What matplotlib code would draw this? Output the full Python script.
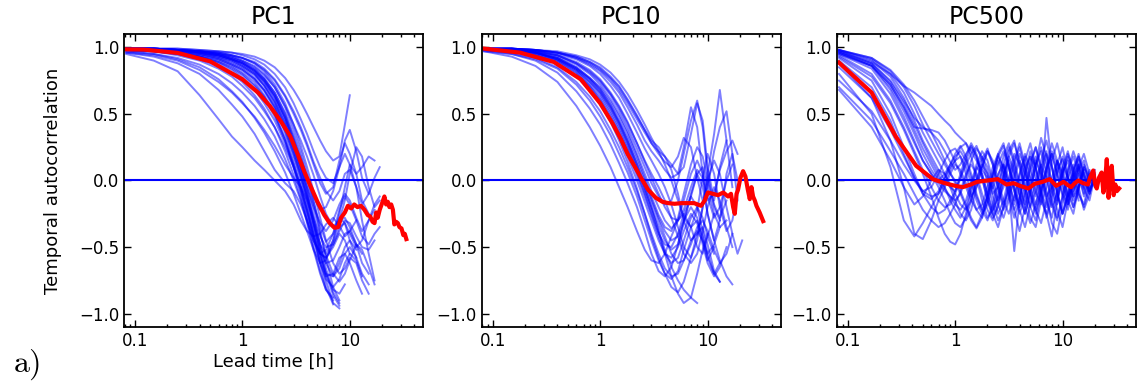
import matplotlib
matplotlib.use("Agg")
from matplotlib import pyplot as plt
from matplotlib.ticker import LogLocator, NullFormatter

plt.rcParams['mathtext.fontset'] = 'cm'

t_pc1 = [0.083, 0.15, 0.25, 0.4, 0.6, 0.8, 1.0, 1.3, 1.6, 2.0, 2.5, 3.0, 3.5,
         4.0, 4.6, 5.3, 6.0, 7.0, 8.0, 9.0, 10, 11.5, 13, 15, 17, 19]

pc1_lines = [
    [0.95, 0.90, 0.82, 0.64, 0.46, 0.33, 0.25, 0.15, 0.08, 0.00, -0.08, -0.18, -0.30, -0.38, -0.42, -0.40, -0.33, -0.28, -0.34, -0.42, -0.38, -0.30],
    [0.96, 0.93, 0.88, 0.80, 0.68, 0.57, 0.48, 0.35, 0.22, 0.08, -0.02, -0.08, -0.18, -0.30, -0.45, -0.55, -0.58, -0.50, -0.40, -0.45, -0.55],
    [0.97, 0.95, 0.91, 0.85, 0.76, 0.67, 0.59, 0.47, 0.36, 0.22, 0.06, -0.10, -0.25, -0.38, -0.52, -0.62, -0.60, -0.45, -0.30, -0.28, -0.35, -0.48, -0.55],
    [0.96, 0.94, 0.90, 0.83, 0.74, 0.66, 0.58, 0.48, 0.38, 0.26, 0.12, 0.02, -0.05, -0.15, -0.30, -0.48, -0.62, -0.72, -0.66, -0.55, -0.50, -0.58, -0.70, -0.78],
    [0.99, 0.98, 0.97, 0.95, 0.92, 0.88, 0.84, 0.77, 0.68, 0.55, 0.36, 0.16, -0.02, -0.20, -0.40, -0.62, -0.80, -0.93],
    [0.99, 0.99, 0.98, 0.96, 0.94, 0.91, 0.88, 0.82, 0.74, 0.62, 0.45, 0.26, 0.08, -0.10, -0.32, -0.55, -0.75, -0.92, -0.96],
    [0.98, 0.97, 0.95, 0.93, 0.89, 0.85, 0.80, 0.72, 0.63, 0.50, 0.32, 0.12, -0.05, -0.22, -0.42, -0.62, -0.72, -0.70, -0.58, -0.55, -0.62, -0.75, -0.85],
    [0.99, 0.99, 0.98, 0.97, 0.95, 0.93, 0.90, 0.85, 0.79, 0.70, 0.55, 0.38, 0.22, 0.05, -0.15, -0.38, -0.58, -0.80, -0.90],
    [0.99, 0.98, 0.96, 0.94, 0.91, 0.87, 0.83, 0.76, 0.67, 0.54, 0.37, 0.20, 0.03, -0.12, -0.28, -0.42, -0.50, -0.48, -0.38, -0.30, -0.32, -0.42, -0.50, -0.52, -0.45],
    [0.99, 0.99, 0.98, 0.96, 0.93, 0.90, 0.86, 0.80, 0.72, 0.60, 0.43, 0.25, 0.10, -0.05, -0.20, -0.32, -0.38, -0.30, -0.18, -0.10, -0.15, -0.28, -0.38, -0.30, -0.18, -0.12],
    [0.99, 0.99, 0.98, 0.97, 0.96, 0.94, 0.92, 0.88, 0.82, 0.72, 0.58, 0.42, 0.26, 0.10, -0.08, -0.28, -0.45, -0.62, -0.70, -0.66, -0.58, -0.62, -0.75, -0.85],
    [0.98, 0.97, 0.96, 0.93, 0.90, 0.86, 0.81, 0.74, 0.64, 0.50, 0.30, 0.10, -0.10, -0.30, -0.50, -0.68, -0.82, -0.90],
    [0.99, 0.98, 0.97, 0.95, 0.92, 0.89, 0.85, 0.79, 0.71, 0.59, 0.42, 0.24, 0.06, -0.12, -0.32, -0.48, -0.55, -0.45, -0.25, -0.05, 0.12, 0.05, -0.15, -0.25],
    [0.99, 0.99, 0.98, 0.96, 0.94, 0.91, 0.87, 0.81, 0.74, 0.63, 0.47, 0.30, 0.14, -0.02, -0.20, -0.40, -0.56, -0.70, -0.76, -0.70, -0.60, -0.48, -0.52, -0.65, -0.78],
    [0.99, 0.98, 0.97, 0.95, 0.93, 0.90, 0.86, 0.80, 0.71, 0.58, 0.40, 0.20, 0.02, -0.16, -0.36, -0.55, -0.70, -0.82, -0.85, -0.78],
    [0.99, 0.99, 0.98, 0.97, 0.95, 0.92, 0.89, 0.84, 0.77, 0.66, 0.50, 0.32, 0.16, 0.02, -0.12, -0.22, -0.20, -0.08, 0.10, 0.20, 0.12, -0.05, -0.18, -0.10, 0.02, 0.10],
    [0.99, 0.99, 0.98, 0.97, 0.95, 0.92, 0.89, 0.83, 0.76, 0.64, 0.48, 0.30, 0.12, -0.06, -0.26, -0.48, -0.66, -0.84, -0.92],
    [0.98, 0.97, 0.96, 0.94, 0.91, 0.87, 0.83, 0.76, 0.68, 0.56, 0.40, 0.22, 0.04, -0.14, -0.34, -0.52, -0.62, -0.60, -0.50, -0.40, -0.38, -0.48, -0.62, -0.70],
    [0.99, 0.98, 0.97, 0.96, 0.94, 0.91, 0.88, 0.83, 0.76, 0.66, 0.51, 0.34, 0.18, 0.02, -0.16, -0.34, -0.46, -0.40, -0.22, -0.12, -0.18, -0.30, -0.42, -0.48, -0.40, -0.35],
    [0.99, 0.99, 0.98, 0.96, 0.94, 0.91, 0.88, 0.82, 0.75, 0.64, 0.47, 0.28, 0.10, -0.08, -0.30, -0.52, -0.70, -0.86, -0.94],
    [0.98, 0.97, 0.95, 0.91, 0.86, 0.80, 0.74, 0.64, 0.54, 0.40, 0.22, 0.04, -0.14, -0.32, -0.52, -0.70, -0.82, -0.88],
    [0.99, 0.98, 0.96, 0.93, 0.88, 0.83, 0.77, 0.68, 0.58, 0.45, 0.28, 0.10, -0.08, -0.26, -0.45, -0.62, -0.74, -0.80, -0.74, -0.62, -0.55, -0.60, -0.72],
    [0.98, 0.97, 0.94, 0.90, 0.84, 0.78, 0.71, 0.62, 0.52, 0.40, 0.25, 0.10, -0.05, -0.22, -0.40, -0.58, -0.70, -0.72, -0.62, -0.50, -0.45, -0.52],
    [0.99, 0.98, 0.96, 0.93, 0.89, 0.84, 0.79, 0.71, 0.62, 0.48, 0.30, 0.12, -0.06, -0.24, -0.42, -0.55, -0.58, -0.48, -0.35, -0.32, -0.40, -0.50, -0.45, -0.30, -0.22],
    [0.97, 0.95, 0.92, 0.87, 0.80, 0.73, 0.66, 0.56, 0.46, 0.33, 0.16, 0.00, -0.15, -0.30, -0.45, -0.55, -0.52, -0.40, -0.28, -0.32, -0.45, -0.58],
    [0.99, 0.99, 0.99, 0.98, 0.97, 0.96, 0.95, 0.93, 0.90, 0.85, 0.77, 0.68, 0.59, 0.50, 0.40, 0.30, 0.22, 0.15, 0.18, 0.42, 0.64],
    [0.99, 0.99, 0.99, 0.98, 0.97, 0.96, 0.94, 0.91, 0.87, 0.80, 0.70, 0.58, 0.46, 0.35, 0.22, 0.10, 0.02, -0.02, 0.10, 0.30, 0.38, 0.22, 0.02, -0.10],
    [0.99, 0.99, 0.98, 0.97, 0.96, 0.94, 0.92, 0.88, 0.83, 0.75, 0.63, 0.50, 0.38, 0.26, 0.12, -0.02, -0.10, -0.05, 0.15, 0.28, 0.20, 0.05, 0.10, 0.18, 0.15],
    [0.99, 0.99, 0.98, 0.97, 0.95, 0.93, 0.90, 0.86, 0.80, 0.70, 0.56, 0.42, 0.30, 0.18, 0.04, -0.12, -0.25, -0.35, -0.30, -0.15, 0.05, 0.25, 0.18, -0.05, -0.20, -0.15],
    [0.99, 0.99, 0.98, 0.97, 0.96, 0.94, 0.92, 0.89, 0.84, 0.76, 0.64, 0.52, 0.40, 0.28, 0.14, 0.02, -0.08, -0.15, -0.08, 0.05, 0.08, -0.05, -0.30, -0.55, -0.75],
]

red_t_pc1 = [0.083, 0.12, 0.25, 0.5, 1.0, 1.4, 1.8, 2.3, 2.8, 3.3, 3.8, 4.3, 5.0, 5.8, 6.5, 7.2, 7.8, 8.3,
             9.0, 9.6, 10.3, 11.0, 11.8, 12.7, 13.7, 14.7, 15.5, 16.3, 17.0, 17.6, 18.2, 19.0, 20.0, 21.0,
             21.8, 22.6, 23.4, 24.3, 25.2, 26.0, 27.0, 28.0, 29.0, 30.3, 31.5, 32.5, 33.6]
red_pc1 = [0.985, 0.983, 0.958, 0.895, 0.76, 0.66, 0.56, 0.44, 0.33, 0.19, 0.06, -0.04, -0.16, -0.26, -0.32, -0.355,
           -0.35, -0.28, -0.24, -0.19, -0.21, -0.18, -0.20, -0.19, -0.22, -0.26, -0.27, -0.31, -0.32, -0.24, -0.28,
           -0.22, -0.17, -0.12, -0.18, -0.16, -0.20, -0.18, -0.22, -0.33, -0.31, -0.32, -0.35, -0.36, -0.41, -0.40, -0.44]

t_pc10 = [0.083, 0.15, 0.25, 0.4, 0.6, 0.8, 1.0, 1.25, 1.5, 1.8, 2.2, 2.6, 3.0, 3.5,
          4.0, 4.6, 5.3, 6.0, 7.0, 8.0, 9.0, 10, 11.5, 13, 15, 17, 19, 21]

pc10_lines = [
    [0.97, 0.93, 0.86, 0.74, 0.56, 0.40, 0.26, 0.10, -0.05, -0.20, -0.38, -0.52, -0.60, -0.62, -0.55, -0.42, -0.30, -0.25, -0.35, -0.50, -0.55, -0.42, -0.25],
    [0.98, 0.95, 0.90, 0.81, 0.67, 0.54, 0.42, 0.27, 0.13, -0.02, -0.20, -0.38, -0.55, -0.68, -0.72, -0.65, -0.48, -0.30, -0.20, -0.28, -0.45, -0.60, -0.50],
    [0.97, 0.95, 0.91, 0.84, 0.72, 0.60, 0.48, 0.34, 0.20, 0.06, -0.12, -0.30, -0.45, -0.60, -0.70, -0.74, -0.68, -0.52, -0.35, -0.30, -0.42, -0.58, -0.70, -0.62],
    [0.98, 0.96, 0.92, 0.85, 0.74, 0.63, 0.52, 0.38, 0.25, 0.10, -0.08, -0.25, -0.40, -0.55, -0.66, -0.72, -0.70, -0.60, -0.45, -0.38, -0.45, -0.55, -0.48, -0.35, -0.30],
    [0.99, 0.98, 0.96, 0.91, 0.83, 0.74, 0.65, 0.52, 0.40, 0.26, 0.08, -0.08, -0.22, -0.38, -0.52, -0.65, -0.75, -0.82, -0.88, -0.92],
    [0.99, 0.98, 0.96, 0.92, 0.85, 0.77, 0.69, 0.57, 0.45, 0.32, 0.15, 0.00, -0.14, -0.28, -0.38, -0.45, -0.42, -0.30, -0.12, 0.05, 0.10, -0.05, -0.25, -0.35],
    [0.99, 0.98, 0.95, 0.90, 0.82, 0.72, 0.63, 0.50, 0.38, 0.24, 0.06, -0.10, -0.25, -0.40, -0.48, -0.50, -0.40, -0.25, -0.12, -0.20, -0.38, -0.55, -0.70, -0.76],
    [0.99, 0.98, 0.97, 0.93, 0.87, 0.80, 0.72, 0.61, 0.50, 0.37, 0.20, 0.05, -0.08, -0.20, -0.30, -0.36, -0.30, -0.15, 0.05, 0.15, 0.05, -0.12, -0.28, -0.20, 0.00, 0.12],
    [0.99, 0.98, 0.96, 0.92, 0.84, 0.76, 0.67, 0.55, 0.43, 0.29, 0.12, -0.03, -0.16, -0.30, -0.42, -0.55, -0.62, -0.60, -0.48, -0.35, -0.30, -0.38, -0.52, -0.62, -0.55, -0.40],
    [0.99, 0.99, 0.97, 0.94, 0.88, 0.81, 0.74, 0.64, 0.53, 0.40, 0.24, 0.10, -0.02, -0.12, -0.18, -0.15, 0.00, 0.20, 0.45, 0.60, 0.40, 0.05, -0.20, -0.30],
    [0.99, 0.98, 0.96, 0.91, 0.83, 0.74, 0.66, 0.54, 0.42, 0.28, 0.10, -0.06, -0.20, -0.34, -0.45, -0.52, -0.48, -0.32, -0.10, 0.05, -0.05, -0.25, -0.45, -0.60, -0.72, -0.78],
    [0.99, 0.99, 0.97, 0.94, 0.89, 0.83, 0.76, 0.66, 0.56, 0.44, 0.28, 0.14, 0.02, -0.10, -0.20, -0.28, -0.30, -0.22, -0.05, 0.08, 0.02, -0.15, -0.10, 0.08, 0.22, 0.30, 0.20],
    [0.99, 0.98, 0.95, 0.90, 0.81, 0.71, 0.61, 0.48, 0.36, 0.22, 0.04, -0.12, -0.26, -0.42, -0.55, -0.62, -0.58, -0.45, -0.28, -0.20, -0.28, -0.42, -0.55],
    [0.99, 0.98, 0.96, 0.92, 0.85, 0.77, 0.70, 0.59, 0.48, 0.35, 0.18, 0.02, -0.12, -0.26, -0.35, -0.38, -0.28, -0.10, 0.12, 0.25, 0.18, 0.00, -0.18, -0.28, -0.15],
    [0.99, 0.99, 0.97, 0.94, 0.88, 0.82, 0.75, 0.65, 0.55, 0.43, 0.28, 0.15, 0.05, -0.05, -0.15, -0.28, -0.42, -0.55, -0.62, -0.55, -0.38, -0.20, -0.05, -0.15, -0.35, -0.50],
    [0.98, 0.97, 0.94, 0.89, 0.80, 0.70, 0.60, 0.46, 0.33, 0.18, 0.00, -0.16, -0.30, -0.45, -0.55, -0.58, -0.50, -0.38, -0.25, -0.32, -0.48, -0.62, -0.72, -0.65, -0.50],
    [0.99, 0.99, 0.98, 0.96, 0.92, 0.88, 0.83, 0.76, 0.68, 0.58, 0.46, 0.36, 0.28, 0.22, 0.18, 0.12, 0.05, 0.10, 0.35, 0.58, 0.45, 0.10, -0.15, 0.10, 0.30],
    [0.99, 0.99, 0.98, 0.96, 0.93, 0.89, 0.84, 0.77, 0.70, 0.60, 0.48, 0.38, 0.30, 0.25, 0.18, 0.08, -0.10, -0.30, -0.45, -0.40, -0.20, 0.05, 0.35, 0.68, 0.30, -0.05],
    [0.99, 0.99, 0.98, 0.96, 0.92, 0.87, 0.82, 0.74, 0.66, 0.55, 0.42, 0.30, 0.22, 0.15, 0.08, 0.02, 0.05, 0.25, 0.55, 0.40, 0.05, -0.25, -0.45, -0.30, 0.05, 0.20, 0.00],
    [0.99, 0.99, 0.98, 0.95, 0.91, 0.86, 0.80, 0.71, 0.62, 0.50, 0.36, 0.24, 0.15, 0.05, -0.05, -0.18, -0.35, -0.50, -0.58, -0.45, -0.20, 0.00, 0.15, 0.05, -0.20, -0.40, -0.55, -0.45],
    [0.99, 0.99, 0.98, 0.96, 0.93, 0.89, 0.85, 0.78, 0.71, 0.61, 0.49, 0.38, 0.28, 0.20, 0.14, 0.10, 0.18, 0.32, 0.25, 0.02, -0.15, -0.05, 0.22, 0.40, 0.52, 0.20, -0.15],
    [0.99, 0.99, 0.98, 0.97, 0.94, 0.91, 0.87, 0.81, 0.74, 0.65, 0.53, 0.42, 0.32, 0.22, 0.12, 0.00, -0.15, -0.28, -0.35, -0.22, 0.02, 0.20, 0.05, -0.20, -0.38, -0.30, -0.10],
    [0.99, 0.98, 0.96, 0.91, 0.84, 0.76, 0.68, 0.56, 0.44, 0.30, 0.12, -0.05, -0.20, -0.38, -0.55, -0.72, -0.85, -0.92, -0.88, -0.70, -0.52, -0.40],
    [0.98, 0.97, 0.94, 0.88, 0.78, 0.68, 0.58, 0.44, 0.30, 0.14, -0.06, -0.25, -0.42, -0.58, -0.70, -0.80, -0.84, -0.76, -0.58, -0.40, -0.35, -0.48, -0.68, -0.76],
]

red_t_pc10 = [0.083, 0.18, 0.37, 0.66, 1.0, 1.3, 1.56, 1.8, 2.08, 2.4, 2.8, 3.3, 3.8, 4.3, 4.93, 5.7, 6.55, 7.5,
              8.7, 9.4, 10.06, 11.2, 12.5, 14.0, 15.5, 16.5, 17.3, 17.9, 18.6, 19.2, 20.2, 21.4, 22.5, 23.7,
              24.7, 25.6, 26.5, 27.5, 28.5, 30.5, 32.9]
red_pc10 = [0.99, 0.96, 0.89, 0.76, 0.58, 0.43, 0.31, 0.20, 0.11, 0.02, -0.07, -0.13, -0.16, -0.17, -0.175, -0.17,
            -0.17, -0.17, -0.19, -0.15, -0.09, -0.10, -0.11, -0.09, -0.12, -0.10, -0.20, -0.25, -0.10, -0.07, 0.02,
            0.07, 0.03, -0.07, -0.14, -0.05, -0.12, -0.15, -0.19, -0.24, -0.305]

t_pc500 = [0.083, 0.167, 0.25, 0.333, 0.417, 0.5, 0.6, 0.7, 0.8, 0.9,
           1.0, 1.12, 1.26, 1.41, 1.58, 1.78, 2.0, 2.24, 2.51, 2.82, 3.16, 3.55, 3.98, 4.47,
           5.01, 5.62, 6.31, 7.08, 7.94, 8.91, 10.0, 11.2, 12.6, 14.1, 15.8, 17.8, 20.0]

pc500_lines = [
    [0.97, 0.89, 0.80, 0.71, 0.66, 0.61, 0.56, 0.50, 0.45, 0.41,
     0.36, 0.32, 0.28, 0.22, 0.15, 0.08, 0.02, -0.06, 0.05, 0.12, -0.02, -0.15, 0.04, 0.18, 0.02, -0.12, 0.10, 0.22, -0.05, -0.18, 0.06, 0.15, -0.08, 0.05, -0.10, 0.08, -0.04],
    [0.96, 0.86, 0.72, 0.55, 0.40, 0.39, 0.38, 0.36, 0.30, 0.22,
     0.14, 0.05, -0.05, -0.15, -0.22, -0.18, -0.05, 0.10, 0.20, 0.08, -0.10, -0.22, -0.12, 0.05, 0.18, 0.10, -0.08, -0.20, -0.06, 0.12, 0.25, 0.05, -0.15, -0.05, 0.10, -0.02, 0.06],
    [0.95, 0.86, 0.68, 0.48, 0.30, 0.15, 0.05, -0.02, -0.08, -0.12,
     -0.15, -0.10, 0.02, 0.15, 0.24, 0.18, 0.05, -0.12, -0.25, -0.15, 0.02, 0.20, 0.12, -0.05, -0.20, -0.30, -0.10, 0.08, 0.20, 0.05, -0.12, -0.22, 0.02, 0.12, -0.06, -0.15, 0.04],
    [0.80, 0.50, 0.10, -0.30, -0.42, -0.32, -0.20, -0.10, 0.02, 0.10,
     0.15, 0.18, 0.10, -0.02, -0.15, -0.25, -0.18, -0.02, 0.12, 0.22, 0.10, -0.08, -0.20, -0.10, 0.08, 0.18, 0.02, -0.15, -0.28, -0.08, 0.10, 0.02, -0.12, 0.08, 0.15, -0.05],
    [0.88, 0.62, 0.30, -0.05, -0.40, -0.44, -0.30, -0.15, -0.05, 0.05,
     0.12, 0.08, -0.02, -0.12, -0.05, 0.10, 0.22, 0.15, 0.00, -0.15, -0.25, -0.12, 0.05, 0.20, 0.10, -0.08, -0.18, -0.05, 0.15, 0.28, 0.10, -0.10, -0.20, -0.05, 0.08],
    [0.93, 0.78, 0.58, 0.38, 0.20, 0.05, -0.12, -0.28, -0.40, -0.46,
     -0.48, -0.40, -0.25, -0.08, 0.08, 0.18, 0.10, -0.05, -0.18, -0.28, -0.15, 0.02, 0.15, 0.05, -0.10, -0.22, -0.08, 0.10, 0.20, 0.05, -0.10, -0.18, 0.00, 0.10, -0.05, 0.05, -0.02],
    [0.98, 0.90, 0.78, 0.62, 0.45, 0.30, 0.18, 0.08, 0.00, -0.05,
     -0.08, 0.02, 0.12, 0.20, 0.26, 0.15, -0.02, -0.18, -0.30, -0.20, -0.02, 0.15, 0.28, 0.12, -0.05, -0.18, -0.05, 0.47, 0.10, -0.10, -0.25, -0.10, 0.08, 0.18, 0.00, -0.10, 0.05],
    [0.97, 0.88, 0.74, 0.58, 0.42, 0.28, 0.15, 0.05, -0.05, -0.15,
     -0.22, -0.28, -0.20, -0.05, 0.10, 0.05, -0.10, -0.25, -0.35, -0.20, -0.05, -0.53, -0.15, 0.10, 0.18, 0.02, -0.15, -0.25, -0.10, 0.08, 0.16, 0.02, -0.12, -0.05, 0.06, -0.08, 0.02],
    [0.92, 0.75, 0.50, 0.25, 0.05, -0.10, -0.20, -0.25, -0.22, -0.15,
     -0.08, 0.05, 0.18, 0.28, 0.20, 0.05, -0.10, -0.22, -0.12, 0.05, 0.22, 0.30, 0.10, -0.10, -0.28, -0.35, -0.15, 0.05, 0.22, 0.12, -0.05, -0.18, -0.08, 0.10, 0.20, 0.05],
    [0.70, 0.45, 0.22, 0.05, -0.10, -0.22, -0.30, -0.35, -0.32, -0.25,
     -0.18, -0.08, 0.05, 0.12, 0.05, -0.10, -0.22, -0.30, -0.18, 0.02, 0.18, 0.08, -0.10, -0.25, -0.10, 0.10, 0.25, 0.12, -0.08, -0.22, -0.35, -0.15, 0.05],
    [0.96, 0.86, 0.70, 0.52, 0.35, 0.20, 0.08, 0.00, 0.05, 0.12,
     0.18, 0.22, 0.15, 0.02, -0.12, -0.22, -0.30, -0.18, 0.02, 0.18, 0.28, 0.15, -0.02, -0.18, -0.05, 0.12, 0.32, 0.18, -0.02, -0.15, 0.05, 0.20, 0.08, -0.10, -0.20, -0.05, 0.08],
    [0.98, 0.92, 0.82, 0.70, 0.56, 0.42, 0.30, 0.20, 0.12, 0.05,
     0.00, -0.08, -0.18, -0.28, -0.35, -0.25, -0.10, 0.05, 0.18, 0.10, -0.05, -0.22, -0.38, -0.20, 0.00, 0.15, 0.05, -0.12, -0.32, -0.40, -0.18, 0.02, 0.12, -0.05, -0.22, -0.10, 0.04],
    [0.68, 0.40, 0.15, -0.05, -0.18, -0.12, 0.00, 0.08, 0.05, -0.05,
     -0.15, -0.25, -0.30, -0.22, -0.05, 0.10, 0.22, 0.12, -0.05, -0.18, -0.08, 0.12, 0.25, 0.08, -0.12, -0.25, -0.08, 0.10, 0.28, 0.15, -0.02, -0.15, 0.02, 0.15],
    [0.95, 0.84, 0.65, 0.45, 0.28, 0.15, 0.05, -0.05, -0.15, -0.25,
     -0.32, -0.35, -0.28, -0.15, 0.00, 0.12, 0.05, -0.10, -0.05, 0.12, 0.25, 0.12, -0.05, -0.20, -0.32, -0.18, 0.02, 0.20, 0.10, -0.08, -0.25, -0.12, 0.05, 0.18, 0.05, -0.08, 0.02],
    [0.97, 0.88, 0.75, 0.60, 0.47, 0.40, 0.36, 0.30, 0.22, 0.14,
     0.08, 0.12, 0.20, 0.26, 0.18, 0.02, -0.15, -0.25, -0.12, 0.05, 0.15, 0.05, -0.12, -0.25, -0.08, 0.12, 0.22, 0.05, -0.15, -0.28, -0.12, 0.08, 0.22, 0.10, -0.06],
    [0.85, 0.62, 0.38, 0.18, 0.02, -0.08, -0.12, -0.10, -0.02, 0.08,
     0.15, 0.25, 0.28, 0.18, 0.02, -0.15, -0.28, -0.22, -0.05, 0.12, 0.00, -0.18, -0.05, 0.15, 0.28, 0.10, -0.10, -0.28, -0.15, 0.05, 0.18, 0.02, -0.20, -0.08, 0.10, 0.02],
    [0.98, 0.91, 0.80, 0.66, 0.50, 0.36, 0.24, 0.14, 0.05, -0.03,
     -0.10, -0.18, -0.22, -0.15, 0.00, 0.15, 0.24, 0.12, -0.05, -0.22, -0.12, 0.05, 0.20, 0.10, -0.08, -0.22, -0.32, -0.15, 0.02, 0.15, 0.04, -0.12, -0.05, 0.12, 0.02, -0.10, 0.03],
    [0.90, 0.70, 0.45, 0.20, 0.02, -0.10, -0.14, -0.08, 0.02, 0.12,
     0.20, 0.26, 0.18, 0.05, -0.10, -0.22, -0.12, 0.05, 0.20, 0.28, 0.10, -0.08, -0.25, -0.12, 0.10, 0.25, 0.08, -0.12, -0.05, 0.15, 0.05, -0.15, -0.25, -0.05, 0.12, 0.03],
    [0.96, 0.87, 0.72, 0.55, 0.38, 0.24, 0.12, 0.02, -0.06, -0.12,
     -0.18, -0.22, -0.15, -0.02, 0.12, 0.22, 0.15, 0.00, -0.15, -0.05, 0.12, -0.05, -0.22, -0.35, -0.18, 0.00, 0.12, 0.02, -0.18, -0.30, -0.12, 0.06, 0.18, 0.05, -0.12, 0.02, -0.05],
    [0.98, 0.92, 0.83, 0.72, 0.60, 0.48, 0.36, 0.25, 0.15, 0.06,
     -0.02, -0.10, -0.20, -0.30, -0.36, -0.28, -0.12, 0.04, 0.18, 0.26, 0.12, -0.05, -0.18, -0.05, 0.14, 0.25, 0.10, -0.08, -0.20, -0.10, 0.10, 0.22, 0.06, -0.10, -0.18, 0.00],
    [0.75, 0.52, 0.30, 0.12, 0.00, -0.08, -0.05, 0.05, 0.15, 0.22,
     0.24, 0.18, 0.05, -0.10, -0.22, -0.28, -0.15, 0.02, 0.15, 0.05, -0.12, -0.28, -0.15, 0.05, 0.22, 0.10, -0.10, -0.25, -0.42, -0.15, 0.05, 0.18, 0.02, -0.15],
    [0.94, 0.80, 0.60, 0.40, 0.22, 0.08, -0.05, -0.15, -0.20, -0.18,
     -0.10, 0.02, 0.15, 0.25, 0.18, 0.02, -0.15, -0.28, -0.20, 0.00, 0.18, 0.28, 0.15, -0.05, -0.20, -0.08, 0.15, 0.30, 0.12, -0.10, -0.25, -0.10, 0.08, 0.20, 0.05, -0.08, 0.04],
]

red_t_pc500 = [0.083, 0.167, 0.28, 0.434, 0.62, 0.8, 1.0, 1.18, 1.4, 1.6, 2.0, 2.5, 3.0, 3.5, 4.0, 4.8, 5.5, 6.5,
               7.6, 8.7, 10.2, 11.0, 12.0, 13.0, 14.0, 15.5, 17.2, 18.0, 19.3, 20.0, 20.8, 21.8, 23.1, 24.0,
               24.9, 25.8, 26.8, 27.7, 28.7, 29.9, 31.0, 32.0, 33.6]
red_pc500 = [0.885, 0.66, 0.33, 0.11, 0.01, -0.02, -0.04, -0.05, -0.03, -0.01, 0.00, 0.01, -0.03, -0.02, -0.04,
             -0.06, -0.025, -0.01, 0.01, -0.04, -0.01, -0.03, -0.05, -0.02, 0.00, -0.02, -0.03, 0.02, 0.075, -0.02,
             -0.06, 0.02, 0.06, -0.09, 0.0, 0.16, -0.13, 0.0, 0.11, -0.11, -0.03, -0.08, -0.06]

panels = [
    ("PC1", t_pc1, pc1_lines, red_t_pc1, red_pc1),
    ("PC10", t_pc10, pc10_lines, red_t_pc10, red_pc10),
    ("PC500", t_pc500, pc500_lines, red_t_pc500, red_pc500),
]
lefts = [0.109, 0.4237, 0.7359]

fig = plt.figure(figsize=(11.37, 3.82), dpi=100)

for i, (title, t, lines, rt, rv) in enumerate(panels):
    ax = fig.add_axes([lefts[i], 0.144, 0.2630, 0.767])
    for y in lines:
        ax.plot(t[:len(y)], y, color='b', alpha=0.5, lw=1.4)
    ax.axhline(0, color='b', lw=1.5)
    ax.plot(rt, rv, color='r', lw=3)

    ax.set_xscale('log')
    ax.set_xlim(0.079, 48)
    ax.set_ylim(-1.1, 1.1)
    ax.set_xticks([0.1, 1, 10])
    ax.set_xticklabels(['0.1', '1', '10'])
    ax.xaxis.set_minor_locator(LogLocator(base=10, subs=range(2, 10)))
    ax.xaxis.set_minor_formatter(NullFormatter())
    ax.set_yticks([-1.0, -0.5, 0.0, 0.5, 1.0])
    ax.tick_params(which='both', direction='in', top=True, right=True, labelsize=12)
    ax.tick_params(which='major', length=5, width=1)
    ax.tick_params(which='minor', length=2.5, width=1)
    for s in ax.spines.values():
        s.set_linewidth(1.3)
    ax.set_title(title, fontsize=17, pad=7)

    if i == 0:
        ax.set_xlabel("Lead time [h]", fontsize=13, labelpad=2)
        ax.set_ylabel("Temporal autocorrelation", fontsize=13, labelpad=12)

fig.text(0.011, 0.028, r'$\mathrm{a)}$', fontsize=23, va='baseline')

plt.savefig("out.png", dpi=100)
